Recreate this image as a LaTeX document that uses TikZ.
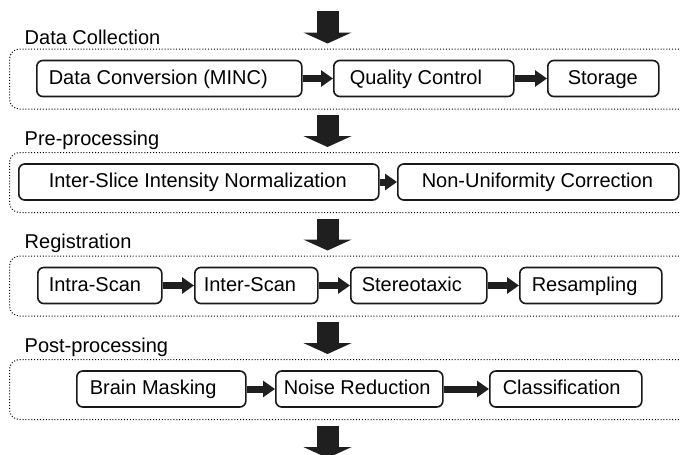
\documentclass[tikz,border=0pt]{standalone}
\usepackage{fontspec}
\setmainfont{Liberation Sans}
\usetikzlibrary{arrows.meta}
\tikzset{
  box/.style={draw=black!90, line width=1.6pt, rounded corners=6pt, minimum height=36pt,
    inner xsep=0pt, inner ysep=0pt, anchor=west, text height=16.3pt, text depth=4.5pt,
    font=\fontsize{20}{24}\selectfont},
  group/.style={draw=black, line width=1pt, dash pattern=on 1pt off 1.9pt,
    rounded corners=10pt, anchor=north west, minimum width=720pt, minimum height=60pt,
    inner sep=0pt},
  lab/.style={anchor=base west, inner sep=0pt, font=\fontsize{20}{24}\selectfont},
  smallarr/.style={draw=black!88, line width=7pt, -{Triangle[length=12pt,width=16pt]}},
  bigarr/.style={draw=black!88, line width=22pt, -{Triangle[length=11pt,width=48pt]}}
}
\newcommand\bxt[3]{\makebox[#1pt][l]{\hspace*{#2pt}#3}}
\begin{document}
\begin{tikzpicture}[x=1pt,y=-1pt]
\useasboundingbox (0,0) rectangle (680,455);
\clip (0,0) rectangle (680,455);
% groups
\node[group] (g1) at (9,48.5) {};
\node[group] (g2) at (9,152) {};
\node[group] (g3) at (9,255.5) {};
\node[group] (g4) at (9,359) {};
% group labels
\node[lab] (l1) at (24.5,44) {Data Collection};
\node[lab] (l2) at (24.5,145) {Pre-processing};
\node[lab] (l3) at (24.5,248.5) {Registration};
\node[lab] (l4) at (24.5,352) {Post-processing};
% row 1
\node[box] (dc) at (36,78.5) {\bxt{265}{12}{Data Conversion (MINC)}};
\node[box] (qc) at (333,78.5) {\bxt{180}{16}{Quality Control}};
\node[box] (st) at (547,78.5) {\bxt{111}{20}{Storage}};
% row 2
\node[box] (isn) at (18,182) {\bxt{360}{30}{Inter-Slice Intensity Normalization}};
\node[box] (nuc) at (397,182) {\bxt{281}{24}{Non-Uniformity Correction}};
% row 3
\node[box] (ia) at (37,285.5) {\bxt{124}{11}{Intra-Scan}};
\node[box] (ie) at (194,285.5) {\bxt{123}{9}{Inter-Scan}};
\node[box] (so) at (350,285.5) {\bxt{136}{11}{Stereotaxic}};
\node[box] (rs) at (519,285.5) {\bxt{142}{12}{Resampling}};
% row 4
\node[box] (bm) at (76,389) {\bxt{169}{13}{Brain Masking}};
\node[box] (nr) at (275,389) {\bxt{167}{8}{Noise Reduction}};
\node[box] (cl) at (489,389) {\bxt{152}{13}{Classification}};
% small arrows
\draw[smallarr] (dc) -- (qc);
\draw[smallarr] (qc) -- (st);
\draw[smallarr] (isn) -- (nuc);
\draw[smallarr] (ia) -- (ie);
\draw[smallarr] (ie) -- (so);
\draw[smallarr] (so) -- (rs);
\draw[smallarr] (bm) -- (nr);
\draw[smallarr] (nr) -- (cl);
% big arrows
\coordinate (top) at (327.5,11);
\coordinate (bot) at (327.5,458);
\draw[bigarr, shorten >=5pt] (top) -- (g1.north -| top);
\draw[bigarr, shorten <=5.5pt, shorten >=5pt] (g1.south -| top) -- (g2.north -| top);
\draw[bigarr, shorten <=5.5pt, shorten >=5pt] (g2.south -| top) -- (g3.north -| top);
\draw[bigarr, shorten <=5.5pt, shorten >=5pt] (g3.south -| top) -- (g4.north -| top);
\draw[bigarr, shorten <=5.5pt] (g4.south -| top) -- (bot);
\end{tikzpicture}
\end{document}
